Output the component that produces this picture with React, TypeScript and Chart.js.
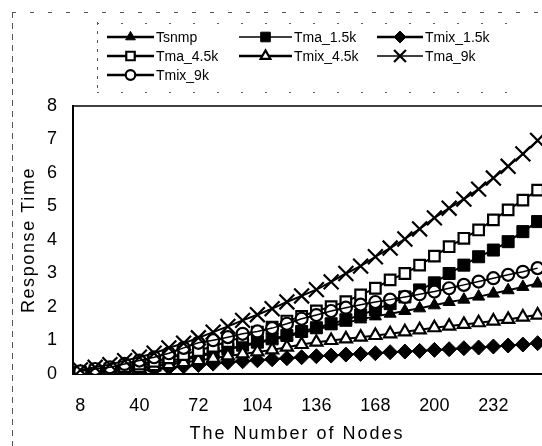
import React, { useEffect, useRef } from 'react';
import { Chart, registerables } from 'chart.js';
import { drawPoint } from 'chart.js/helpers';

Chart.register(...registerables);

// ---------- data ----------
const nodeCounts = [8, 16, 24, 32, 40, 48, 56, 64, 72, 80, 88, 96, 104, 112, 120, 128, 136, 144, 152, 160, 168, 176, 184, 192, 200, 208, 216, 224, 232, 240, 248, 256];
const shownTickLabels = ['8', '40', '72', '104', '136', '168', '200', '232'];

const tsnmp = [0.04, 0.07, 0.11, 0.17, 0.24, 0.31, 0.39, 0.47, 0.56, 0.65, 0.74, 0.83, 0.92, 1.02, 1.12, 1.22, 1.33, 1.43, 1.53, 1.63, 1.72, 1.8, 1.88, 1.96, 2.05, 2.15, 2.22, 2.31, 2.4, 2.5, 2.6, 2.7];
const tma15k = [0.03, 0.05, 0.08, 0.12, 0.18, 0.25, 0.32, 0.42, 0.52, 0.62, 0.74, 0.86, 0.95, 1.05, 1.15, 1.27, 1.38, 1.5, 1.62, 1.76, 1.92, 2.1, 2.3, 2.51, 2.72, 3.0, 3.25, 3.5, 3.7, 3.95, 4.25, 4.55];
const tmix15k = [0.02, 0.04, 0.06, 0.09, 0.12, 0.15, 0.19, 0.23, 0.27, 0.31, 0.35, 0.38, 0.41, 0.44, 0.47, 0.5, 0.53, 0.55, 0.58, 0.6, 0.62, 0.65, 0.67, 0.69, 0.72, 0.74, 0.77, 0.79, 0.82, 0.85, 0.88, 0.92];
const tma45k = [0.05, 0.1, 0.15, 0.22, 0.3, 0.38, 0.48, 0.58, 0.7, 0.83, 0.97, 1.1, 1.25, 1.4, 1.58, 1.72, 1.88, 2.01, 2.16, 2.36, 2.56, 2.81, 3.0, 3.25, 3.52, 3.8, 4.05, 4.3, 4.6, 4.9, 5.19, 5.49];
const tmix45k = [0.03, 0.05, 0.08, 0.12, 0.17, 0.22, 0.28, 0.34, 0.4, 0.47, 0.54, 0.6, 0.66, 0.72, 0.8, 0.88, 0.95, 1.0, 1.05, 1.1, 1.15, 1.2, 1.26, 1.32, 1.38, 1.43, 1.48, 1.53, 1.58, 1.63, 1.7, 1.76];
const tma9k = [0.12, 0.2, 0.28, 0.4, 0.5, 0.62, 0.78, 0.92, 1.08, 1.25, 1.42, 1.6, 1.77, 1.95, 2.15, 2.33, 2.52, 2.75, 3.0, 3.22, 3.5, 3.76, 4.03, 4.33, 4.66, 4.95, 5.22, 5.52, 5.85, 6.2, 6.57, 6.97];
const tmix9k = [0.08, 0.15, 0.2, 0.3, 0.4, 0.5, 0.62, 0.78, 0.93, 1.01, 1.1, 1.2, 1.27, 1.37, 1.5, 1.65, 1.76, 1.88, 1.98, 2.07, 2.15, 2.22, 2.3, 2.38, 2.46, 2.56, 2.66, 2.76, 2.86, 2.96, 3.05, 3.16];

const xTitle = 'The Number of Nodes';
const yTitle = 'Response Time';

const FONT = "'Liberation Sans', Arial, Helvetica, sans-serif";

type Series = {
  label: string;
  data: number[];
  style: string;
  radius: number;
  fill: string;
  border: number;
  legendLine: number;
  legendCol: number;
  legendRow: number;
};

const series: Series[] = [
  { label: 'Tma_9k', data: tma9k, style: 'crossRot', radius: 10.5, fill: '#000', border: 2.2, legendLine: 1.5, legendCol: 2, legendRow: 1 },
  { label: 'Tmix_9k', data: tmix9k, style: 'circle', radius: 6, fill: '#fff', border: 2.2, legendLine: 2.5, legendCol: 0, legendRow: 2 },
  { label: 'Tma_4.5k', data: tma45k, style: 'rect', radius: 7.5, fill: '#fff', border: 2.2, legendLine: 2.5, legendCol: 0, legendRow: 1 },
  { label: 'Tmix_4.5k', data: tmix45k, style: 'triangle', radius: 7, fill: '#fff', border: 2.2, legendLine: 2.5, legendCol: 1, legendRow: 1 },
  { label: 'Tsnmp', data: tsnmp, style: 'triangle', radius: 7, fill: '#000', border: 1, legendLine: 2.5, legendCol: 0, legendRow: 0 },
  { label: 'Tma_1.5k', data: tma15k, style: 'rect', radius: 8.5, fill: '#000', border: 1, legendLine: 1.5, legendCol: 1, legendRow: 0 },
  { label: 'Tmix_1.5k', data: tmix15k, style: 'rectRot', radius: 7.5, fill: '#000', border: 1, legendLine: 2.5, legendCol: 2, legendRow: 0 },
];

// legend layout
const legendCols = [{ x1: 107, x2: 154 }, { x1: 239, x2: 292 }, { x1: 377, x2: 423 }];
const legendRows = [37, 56, 75];

const decorPlugin = {
  id: 'decor',
  afterDraw(chart: any) {
    const ctx = chart.ctx as CanvasRenderingContext2D;
    const a = chart.chartArea;
    ctx.save();

    // top frame line of plot area
    ctx.strokeStyle = '#000';
    ctx.lineWidth = 1.5;
    ctx.beginPath();
    ctx.moveTo(a.left, a.top);
    ctx.lineTo(chart.width, a.top);
    ctx.stroke();

    // faint dashed outer frame & legend box
    ctx.strokeStyle = '#555';
    ctx.lineWidth = 1;
    ctx.setLineDash([6, 5]);
    ctx.beginPath();
    ctx.moveTo(12.5, 12);
    ctx.lineTo(12.5, 446);
    ctx.stroke();
    ctx.setLineDash([4, 14]);
    ctx.beginPath();
    ctx.moveTo(12, 12.5);
    ctx.lineTo(540, 12.5);
    ctx.stroke();
    ctx.setLineDash([3, 6]);
    ctx.beginPath();
    ctx.moveTo(97.5, 22);
    ctx.lineTo(97.5, 92);
    ctx.stroke();
    ctx.setLineDash([2, 22]);
    ctx.beginPath();
    ctx.moveTo(97, 23.5);
    ctx.lineTo(510, 23.5);
    ctx.moveTo(97, 92.5);
    ctx.lineTo(510, 92.5);
    ctx.stroke();
    ctx.setLineDash([]);

    // axis titles
    ctx.fillStyle = '#000';
    ctx.font = `18px ${FONT}`;
    ctx.textAlign = 'center';
    ctx.textBaseline = 'middle';
    (ctx as any).letterSpacing = '2px';
    ctx.fillText(xTitle, a.left + 224, 434);
    ctx.save();
    ctx.translate(29, (a.top + a.bottom) / 2);
    ctx.rotate(-Math.PI / 2);
    (ctx as any).letterSpacing = '1.6px';
    ctx.fillText(yTitle, 0, 0);
    ctx.restore();
    (ctx as any).letterSpacing = '0px';

    // legend
    ctx.font = `14px ${FONT}`;
    ctx.textAlign = 'left';
    for (const s of series) {
      const col = legendCols[s.legendCol];
      const y = legendRows[s.legendRow];
      ctx.strokeStyle = '#000';
      ctx.lineWidth = s.legendLine;
      ctx.beginPath();
      ctx.moveTo(col.x1, y);
      ctx.lineTo(col.x2, y);
      ctx.stroke();
      ctx.fillStyle = s.fill;
      ctx.lineWidth = s.border;
      drawPoint(ctx, { pointStyle: s.style as any, radius: s.radius * 0.8, borderWidth: s.border, rotation: 0 } as any, (col.x1 + col.x2) / 2, y);
      ctx.fillStyle = '#000';
      ctx.fillText(s.label, col.x2 + 2, y + 1);
    }
    ctx.restore();
  },
};

export default function App() {
  const canvasRef = useRef<HTMLCanvasElement | null>(null);

  useEffect(() => {
    if (!canvasRef.current) return;
    const datasets: any[] = series.map((s) => ({
      label: s.label,
      data: s.data,
      borderColor: '#000',
      borderWidth: 2,
      backgroundColor: s.fill,
      pointStyle: s.style,
      pointRadius: s.radius,
      pointBackgroundColor: s.fill,
      pointBorderColor: '#000',
      pointBorderWidth: s.border,
      tension: 0,
      fill: false,
    }));
    // line drawn over the open circles so they read as "⊖"
    datasets.push({
      label: 'Tmix_9k_line',
      data: tmix9k,
      borderColor: '#000',
      borderWidth: 1.5,
      pointRadius: 0,
      fill: false,
      order: -1,
    });

    const chart = new Chart(canvasRef.current, {
      type: 'line',
      data: { labels: nodeCounts.map(String), datasets },
      options: {
        responsive: false,
        maintainAspectRatio: false,
        animation: false,
        devicePixelRatio: 1,
        layout: { padding: { top: 106, right: 15, left: 0, bottom: 0 } },
        plugins: { legend: { display: false }, tooltip: { enabled: false }, title: { display: false } },
        scales: {
          x: {
            type: 'category',
            offset: true,
            grid: { display: false },
            border: { display: true, color: '#000', width: 2 },
            ticks: {
              autoSkip: false,
              maxRotation: 0,
              minRotation: 0,
              padding: 13,
              color: '#000',
              font: { family: FONT, size: 18 },
              callback: (_v: any, i: number) => {
                const lbl = String(nodeCounts[i]);
                return shownTickLabels.includes(lbl) ? lbl : '';
              },
            },
            afterFit: (s: any) => {
              s.height = 72;
            },
          },
          y: {
            min: 0,
            max: 8,
            grid: { display: false },
            border: { display: true, color: '#000', width: 2 },
            ticks: {
              stepSize: 1,
              padding: 8,
              color: '#000',
              font: { family: FONT, size: 18 },
            },
            afterFit: (s: any) => {
              s.width = 73;
            },
          },
        },
      },
      plugins: [decorPlugin],
    });
    return () => chart.destroy();
  }, []);

  return (
    <div style={{ position: 'absolute', left: 0, top: 0, width: 542, height: 446, overflow: 'hidden', background: '#fff' }}>
      <canvas ref={canvasRef} width={560} height={446} style={{ display: 'block', width: 560, height: 446 }} />
    </div>
  );
}
